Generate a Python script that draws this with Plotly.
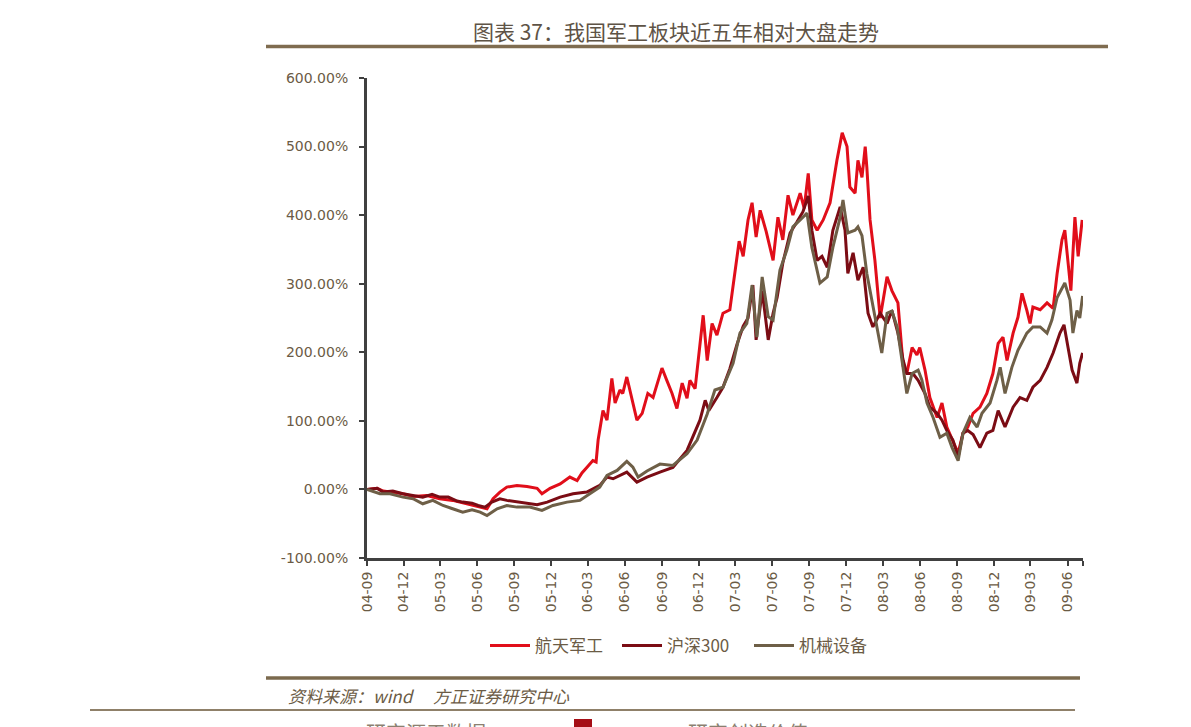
import plotly.graph_objects as go

# ---------------- data (relative performance, %) ----------------
series_names = ["航天军工", "沪深300", "机械设备"]

aero_dates = ["2004-09-01","2004-09-26","2004-10-11","2004-11-04","2004-11-29","2004-12-24","2005-01-27","2005-02-28",
 "2005-04-01","2005-05-06","2005-06-08","2005-06-25","2005-07-10","2005-07-27","2005-08-13","2005-09-07","2005-10-02",
 "2005-10-27","2005-11-08","2005-11-28","2005-12-23","2006-01-16","2006-02-03","2006-02-15","2006-02-27","2006-03-14",
 "2006-03-22","2006-03-27","2006-04-08","2006-04-18","2006-04-30","2006-05-08","2006-05-20","2006-05-27","2006-06-06",
 "2006-06-19","2006-07-01","2006-07-14","2006-07-28","2006-08-10","2006-09-01","2006-09-13","2006-09-26","2006-10-08",
 "2006-10-21","2006-11-02","2006-11-09","2006-11-22","2006-11-29","2006-12-12","2006-12-22","2007-01-03","2007-01-15",
 "2007-01-30","2007-02-16","2007-03-01","2007-03-11","2007-03-21","2007-04-02","2007-04-12","2007-04-22","2007-05-02",
 "2007-05-17","2007-06-03","2007-06-15","2007-06-27","2007-07-10","2007-07-22","2007-08-09","2007-08-19","2007-08-29",
 "2007-09-07","2007-09-20","2007-10-05","2007-10-22","2007-11-08","2007-11-21","2007-12-03","2007-12-10","2007-12-23",
 "2007-12-30","2008-01-09","2008-01-17","2008-01-21","2008-01-29","2008-02-10","2008-02-23","2008-03-11","2008-03-23",
 "2008-04-07","2008-04-20","2008-04-29","2008-05-12","2008-05-24","2008-05-31","2008-06-13","2008-06-25","2008-07-13",
 "2008-07-25","2008-08-06","2008-08-21","2008-09-03","2008-09-15","2008-09-27","2008-10-10","2008-10-27","2008-11-13",
 "2008-11-28","2008-12-11","2008-12-23","2009-01-02","2009-01-17","2009-01-29","2009-02-08","2009-02-20","2009-02-28",
 "2009-03-07","2009-03-25","2009-04-11","2009-04-26","2009-05-06","2009-05-18","2009-05-25","2009-06-02","2009-06-09",
 "2009-06-19","2009-06-27","2009-07-07"]
aero_values = [0,1.6,-2.4,-3.9,-6.3,-10.2,-8.8,-13.6,
 -16,-20.9,-25.8,-28.2,-13.6,-3.9,3.4,5.8,4.4,
 1.6,-6.3,1.6,8,18,13,24,32,42,
 40,72,115,101,162,126,145,140,164,
 130,101,111,140,134,177,159,140,118,
 155,133,159,147,188,254,188,242,225,
 257,262,320,362,340,393,418,368,407,
 376,334,397,364,429,400,432,410,461,
 393,378,393,418,480,520,500,441,432,
 480,455,500,470,393,334,250,310,290,
 272,180,169,207,196,207,174,134,105,
 126,91,72,53,82,91,111,120,140,
 169,213,222,188,228,251,286,261,242,
 266,262,272,264,315,364,378,334,290,
 397,340,393]

hs300_dates = ["2004-09-01","2004-09-26","2004-10-11","2004-11-04","2004-11-29","2004-12-24","2005-01-17","2005-02-09",
 "2005-02-28","2005-03-21","2005-04-12","2005-04-26","2005-05-19","2005-06-03","2005-06-20","2005-07-07","2005-07-27",
 "2005-08-13","2005-09-07","2005-10-02","2005-10-27","2005-11-21","2005-12-23","2006-01-24","2006-02-27","2006-03-31",
 "2006-04-18","2006-05-03","2006-06-06","2006-07-01","2006-07-26","2006-08-27","2006-09-28","2006-11-02","2006-12-04",
 "2006-12-17","2006-12-26","2007-01-15","2007-01-30","2007-02-16","2007-03-06","2007-03-21","2007-04-02","2007-04-14",
 "2007-04-22","2007-05-07","2007-05-22","2007-06-03","2007-06-13","2007-06-27","2007-07-15","2007-08-01","2007-08-16",
 "2007-08-29","2007-09-07","2007-09-20","2007-10-02","2007-10-15","2007-10-29","2007-11-16","2007-11-28","2007-12-05",
 "2007-12-18","2007-12-30","2008-01-12","2008-01-24","2008-02-05","2008-02-23","2008-03-11","2008-03-23","2008-04-07",
 "2008-04-20","2008-04-29","2008-05-14","2008-05-27","2008-06-13","2008-06-25","2008-07-13","2008-07-25","2008-08-06",
 "2008-08-21","2008-09-03","2008-09-15","2008-09-27","2008-10-10","2008-10-27","2008-11-13","2008-11-28","2008-12-11",
 "2008-12-28","2009-01-17","2009-02-03","2009-02-20","2009-03-07","2009-03-25","2009-04-11","2009-04-26","2009-05-13",
 "2009-05-23","2009-06-02","2009-06-12","2009-06-24","2009-07-01","2009-07-08"]
hs300_values = [0,1.6,-3.9,-2.4,-6.3,-8.8,-11.2,-7.3,
 -11.2,-11.2,-17,-18.5,-20,-23.4,-25.8,-18.5,-13.6,
 -16,-18.5,-20.9,-22.4,-18.5,-11.2,-6.3,-3.9,5.8,
 18,15.6,25.3,10.7,18,25.3,32,57,101,
 130,115,134,149,176,212,238,250,298,
 218,290,218,257,280,330,374,390,405,
 428,378,334,340,324,378,412,378,315,
 345,305,324,257,237,257,242,261,228,
 188,169,169,159,140,120,111,101,86,
 72,47,82,86,80,61,82,86,115,
 91,120,134,130,149,159,178,199,228,
 240,207,174,155,184,199]

mach_dates = ["2004-09-01","2004-10-03","2004-10-28","2004-11-29","2004-12-24","2005-01-17","2005-02-11","2005-03-08",
 "2005-04-01","2005-04-26","2005-05-19","2005-06-08","2005-06-25","2005-07-20","2005-08-13","2005-09-07","2005-10-09",
 "2005-11-08","2005-12-05","2006-01-09","2006-02-10","2006-03-07","2006-03-31","2006-04-18","2006-05-13","2006-06-06",
 "2006-06-21","2006-07-04","2006-07-26","2006-08-27","2006-09-28","2006-11-02","2006-11-27","2006-12-22","2007-01-10",
 "2007-01-30","2007-02-24","2007-03-13","2007-03-30","2007-04-12","2007-04-24","2007-05-07","2007-05-22","2007-06-03",
 "2007-06-20","2007-07-07","2007-07-22","2007-08-09","2007-08-26","2007-09-07","2007-09-20","2007-09-27","2007-10-15",
 "2007-10-29","2007-11-16","2007-11-23","2007-12-05","2007-12-23","2007-12-30","2008-01-09","2008-01-21","2008-02-03",
 "2008-02-15","2008-02-27","2008-03-11","2008-03-23","2008-04-05","2008-04-17","2008-04-29","2008-05-12","2008-05-27",
 "2008-06-05","2008-06-18","2008-07-03","2008-07-20","2008-08-06","2008-08-19","2008-09-03","2008-09-15","2008-10-02",
 "2008-10-20","2008-11-01","2008-11-21","2008-12-08","2008-12-16","2008-12-28","2009-01-14","2009-01-29","2009-02-20",
 "2009-03-07","2009-03-25","2009-04-11","2009-04-23","2009-05-06","2009-05-25","2009-06-07","2009-06-14","2009-06-24",
 "2009-07-01","2009-07-08"]
mach_values = [0,-6.3,-6.3,-11.2,-13.6,-20.9,-16,-23.4,
 -28.2,-33.1,-29.7,-33.1,-38,-28.2,-23.4,-25.8,-25.8,
 -30.7,-23.4,-18.5,-16,-6.3,3.4,20.4,27.7,41,
 32.6,18,27,37,35,52,72,110,145,
 149,184,228,242,298,222,310,252,247,
 320,349,383,393,403,353,320,301,310,
 353,397,422,374,378,383,370,315,276,
 237,199,257,260,237,188,140,169,174,
 160,126,105,76,82,61,42,82,105,
 91,111,126,159,178,140,178,203,228,
 237,237,228,247,280,301,276,228,261,
 250,282]

series_dates = [aero_dates, hs300_dates, mach_dates]
series_values = [aero_values, hs300_values, mach_values]
series_colors = ["#E10E1A", "#7B0C14", "#6E5F47"]

x_tick_dates = ["2004-09-01","2004-12-01","2005-03-01","2005-06-01","2005-09-01","2005-12-01","2006-03-01",
 "2006-06-01","2006-09-01","2006-12-01","2007-03-01","2007-06-01","2007-09-01","2007-12-01","2008-03-01",
 "2008-06-01","2008-09-01","2008-12-01","2009-03-01","2009-06-01","2009-07-09"]
x_tick_labels = ["04-09","04-12","05-03","05-06","05-09","05-12","06-03","06-06","06-09","06-12","07-03",
 "07-06","07-09","07-12","08-03","08-06","08-09","08-12","09-03","09-06",""]
y_tick_values = [-100, 0, 100, 200, 300, 400, 500, 600]
y_tick_labels = ["-100.00%","0.00%","100.00%","200.00%","300.00%","400.00%","500.00%","600.00%"]

title_text = "图表 37：我国军工板块近五年相对大盘走势"
source_text = "资料来源：wind　 方正证券研究中心"
slogan_left = "研究源于数据"
slogan_right = "研究创造价值"

# ---------------- figure ----------------
# page body has an 8px default margin: reference pixel coords are shifted by it
OFF = 8
W, H = 1191 - OFF, 727 - OFF
PL, PR, PT, PB = 367, 1083, 78, 558          # plot-area edges in page pixels
pw, ph = PR - PL, PB - PT

def px(x):
    return (x - PL) / pw

def py(y):
    return (PB - y) / ph

txt_col = "#6B5B45"
axis_col = "#404040"
cjk = "Noto Sans CJK SC"

fig = go.Figure()
for name, d, v, c in zip(series_names, series_dates, series_values, series_colors):
    fig.add_trace(go.Scatter(x=d, y=v, mode="lines", name=name,
                             line=dict(color=c, width=3)))

fig.update_layout(
    width=W, height=H, autosize=False,
    margin=dict(l=PL - OFF, r=W - (PR - OFF), t=PT - OFF, b=H - (PB - OFF), pad=0),
    paper_bgcolor="white", plot_bgcolor="white",
    showlegend=True,
    legend=dict(orientation="h", x=px(485), xanchor="left", y=py(646), yanchor="middle",
                font=dict(family=cjk, size=17, color=txt_col), bgcolor="rgba(0,0,0,0)",
                itemwidth=40, entrywidth=77, entrywidthmode="pixels", tracegroupgap=0),
    xaxis=dict(type="date", range=["2004-09-01", "2009-07-09"],
               tickmode="array", tickvals=x_tick_dates, ticktext=x_tick_labels,
               tickangle=-90, ticks="outside", ticklen=5, tickwidth=2, tickcolor=axis_col,
               showline=True, linewidth=3, linecolor=axis_col, showgrid=False, zeroline=False,
               tickfont=dict(family="DejaVu Sans", size=14, color=txt_col),
               ticklabelstandoff=0),
    yaxis=dict(range=[-100, 600], tickmode="array", tickvals=y_tick_values, ticktext=y_tick_labels,
               ticks="outside", ticklen=5, tickwidth=2, tickcolor=axis_col,
               showline=True, linewidth=3, linecolor=axis_col, showgrid=False, zeroline=False,
               tickfont=dict(family="DejaVu Sans", size=14, color=txt_col),
               ticklabelstandoff=8),
)

annotations = [
    dict(text=title_text, x=px(676), y=py(31), xanchor="center", yanchor="middle",
         font=dict(family=cjk, size=21, color="#5E5346")),
    dict(text="<i>" + source_text + "</i>", x=px(286), y=py(695), xanchor="left", yanchor="middle",
         font=dict(family=cjk, size=17, color=txt_col)),
    dict(text=slogan_left, x=px(364), y=py(732), xanchor="left", yanchor="middle",
         font=dict(family=cjk, size=20, color="#8B8070")),
    dict(text=slogan_right, x=px(686), y=py(732), xanchor="left", yanchor="middle",
         font=dict(family=cjk, size=20, color="#8B8070")),
]
for a in annotations:
    a.update(xref="paper", yref="paper", showarrow=False)
fig.update_layout(annotations=annotations)

shapes = [
    dict(type="line", x0=px(266), x1=px(1108), y0=py(46.5), y1=py(46.5), line=dict(color="#7F6C50", width=3.5)),
    dict(type="line", x0=px(266), x1=px(1080), y0=py(678), y1=py(678), line=dict(color="#7B6A4E", width=3.5)),
    dict(type="line", x0=px(90), x1=px(1075), y0=py(710), y1=py(710), line=dict(color="#8F8069", width=2)),
    dict(type="rect", x0=px(574), x1=px(592), y0=py(719), y1=py(740), line=dict(width=0), fillcolor="#A50E16"),
]
for s in shapes:
    s.update(xref="paper", yref="paper", layer="above")
fig.update_layout(shapes=shapes)

fig.write_html("out.html")
